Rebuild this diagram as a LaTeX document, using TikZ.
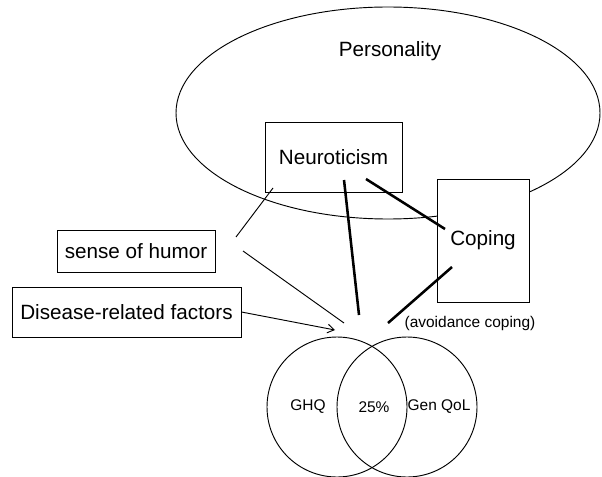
\documentclass[tikz,border=0pt]{standalone}
\usepackage{fontspec}
\setmainfont{Liberation Sans}
\usetikzlibrary{positioning, arrows, arrows.meta}

\begin{document}
\begin{tikzpicture}[x=0.75pt,y=-0.75pt,line width=0.7pt]
            \tikzset{box/.style={draw,rectangle,fill=white,inner sep=0pt,font=\fontsize{15.5}{18}\selectfont},
                     venn/.style={draw,circle,minimum size=105pt,inner sep=0pt},
                     small/.style={font=\fontsize{11.6}{14}\selectfont,inner sep=0pt},
                     strong/.style={line width=1.9pt}}

            \useasboundingbox (0,0) rectangle (602,477);

            \draw (388,113) ellipse [x radius=159pt, y radius=79.5pt];
            \node[font=\fontsize{15.5}{18}\selectfont] (pers) at (390,51) {Personality};

            \node[box,minimum width=102.75pt,minimum height=52.5pt] (neuro) at (333.5,157) {Neuroticism};
            \node[box,minimum width=69pt,minimum height=92.25pt] (coping) at (483,240.5) {Coping};
            \node[box,minimum width=118.5pt,minimum height=31.5pt] (humor) at (136,251) {sense of humor};
            \node[box,minimum width=171.75pt,minimum height=37.5pt] (disease) at (126.5,312) {Disease-related factors};
            \node[small] (avoid) at (470,323) {(avoidance coping)};

            \node[venn] (ghq) at (337,407) {};
            \node[venn] (qol) at (407,407) {};
            \node[small] (ghqlab) at (308,407) {GHQ};
            \node[small] (share) at (374,407) {25\%};
            \node[small] (qollab) at (439,407) {Gen QoL};

            % free ends of the links
            \coordinate (hum1) at (236,237);
            \coordinate (neu1) at (273,188);
            \coordinate (hum2) at (243,251);
            \coordinate (out1) at (344,323);
            \coordinate (out2) at (335,330);
            \coordinate (neu2) at (344,180);
            \coordinate (out3) at (359,315);
            \coordinate (neu3) at (366,179);
            \coordinate (cop1) at (445,229);
            \coordinate (cop2) at (452,267);
            \coordinate (out4) at (388,323);

            \draw (hum1) -- (neu1);
            \draw (hum2) -- (out1);
            \draw[-{Straight Barb[length=5pt,width=6.5pt]}] (disease.east) -- (out2);

            \draw[strong] (neu2) -- (out3);
            \draw[strong] (neu3) -- (cop1);
            \draw[strong] (cop2) -- (out4);

        \end{tikzpicture}
\end{document}
